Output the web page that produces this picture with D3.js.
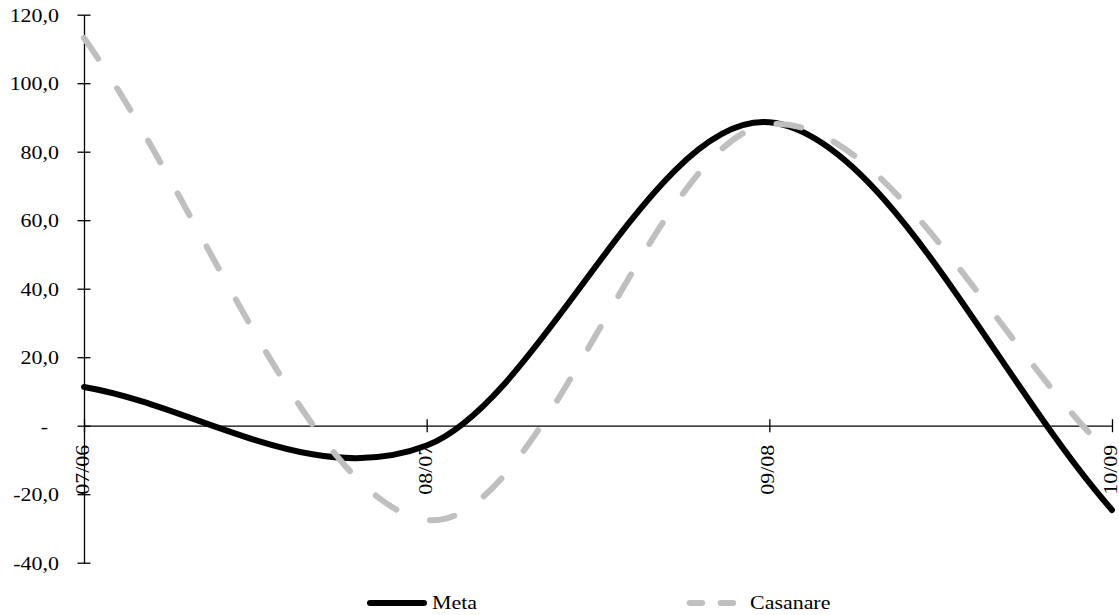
<!DOCTYPE html>
<html>
<head>
<meta charset="utf-8">
<script src="https://cdn.jsdelivr.net/npm/d3@7"></script>
<style>
  html, body { margin: 0; padding: 0; background: #fff; }
  svg { display: block; }
  text { font-family: "Liberation Serif", "Times New Roman", serif; font-size: 18px; fill: #000; white-space: pre; }
</style>
</head>
<body>
<svg id="chart" width="1119" height="615"></svg>
<script>
// ---- data ----
const categories = ["07/06", "08/07", "09/08", "10/09"];
const metaValues = [11.3, -5.8, 88.6, -24.6];
const casanareValues = [113.2, -27.5, 88.0, -9.0];
const seriesNames = ["Meta", "Casanare"];
const yTicks = [-40, -20, 0, 20, 40, 60, 80, 100, 120];

// ---- layout ----
const plot = { left: 84, right: 1112, top: 14.7, bottom: 562.7 };
const stretch = "scale(1.22,1)";
const fontFam = "'Liberation Serif', 'Times New Roman', serif";

const svg = d3.select("#chart");

const x = d3.scalePoint().domain(categories).range([plot.left, plot.right]);
const y = d3.scaleLinear().domain([-40, 120]).range([plot.bottom, plot.top]);

const locale = d3.formatLocale({ decimal: ",", thousands: ".", grouping: [3], currency: ["", ""], minus: "-" });
const f1 = locale.format(".1f");
const fmtY = d => d === 0 ? "-  " : f1(d);

// Excel-like smoothing curve (cardinal with reflected end points)
function curveExcel(context) {
  let pts = [];
  return {
    areaStart() {}, areaEnd() {},
    lineStart() { pts = []; },
    point(px, py) { pts.push([+px, +py]); },
    lineEnd() {
      const n = pts.length;
      if (!n) return;
      context.moveTo(pts[0][0], pts[0][1]);
      if (n === 1) return;
      const get = i => i < 0 ? [2 * pts[0][0] - pts[1][0], 2 * pts[0][1] - pts[1][1]]
        : i >= n ? [2 * pts[n - 1][0] - pts[n - 2][0], 2 * pts[n - 1][1] - pts[n - 2][1]]
        : pts[i];
      for (let i = 0; i < n - 1; i++) {
        const p0 = get(i - 1), p1 = pts[i], p2 = pts[i + 1], p3 = get(i + 2);
        context.bezierCurveTo(
          p1[0] + (p2[0] - p0[0]) / 6, p1[1] + (p2[1] - p0[1]) / 6,
          p2[0] - (p3[0] - p1[0]) / 6, p2[1] - (p3[1] - p1[1]) / 6,
          p2[0], p2[1]);
      }
    }
  };
}

// Y axis
const gy = svg.append("g")
  .attr("transform", `translate(${plot.left},0)`)
  .call(d3.axisLeft(y).tickValues(yTicks).tickFormat(fmtY).tickSizeInner(6.5).tickSizeOuter(0));
gy.select(".domain").attr("stroke", "#000").attr("stroke-width", 1.3);
gy.selectAll(".tick line").attr("x1", 6.5).attr("x2", -6.5).attr("stroke", "#000").attr("stroke-width", 1.3);
gy.selectAll(".tick text")
  .attr("x", 0).attr("dy", "0.35em")
  .attr("transform", `translate(-25,0) ${stretch}`)
  .attr("fill", "#000")
  .style("font-size", "18px")
  .style("font-family", fontFam);

// X axis at zero
const gx = svg.append("g")
  .attr("transform", `translate(0,${y(0)})`)
  .call(d3.axisBottom(x).tickSizeInner(6.5).tickSizeOuter(0));
gx.select(".domain").attr("stroke", "#000").attr("stroke-width", 1.3);
gx.selectAll(".tick line").attr("y1", -6.5).attr("y2", 6.5).attr("stroke", "#000").attr("stroke-width", 1.3);
gx.selectAll(".tick text")
  .attr("x", 0).attr("y", 0).attr("dy", "0.3em")
  .attr("transform", `translate(-1,19) rotate(-90) ${stretch}`)
  .attr("text-anchor", "end")
  .attr("fill", "#000")
  .style("font-size", "18px")
  .style("font-family", fontFam);

// lines
const line = d3.line()
  .x((d, i) => x(categories[i]))
  .y(d => y(d))
  .curve(curveExcel);

svg.append("path")
  .datum(metaValues)
  .attr("d", line)
  .attr("fill", "none")
  .attr("stroke", "#000")
  .attr("stroke-width", 6)
  .attr("stroke-linecap", "round")
  .attr("stroke-linejoin", "round");

svg.append("path")
  .datum(casanareValues)
  .attr("d", line)
  .attr("fill", "none")
  .attr("stroke", "#BFBFBF")
  .attr("stroke-width", 6)
  .attr("stroke-dasharray", "25,35.5")
  .attr("stroke-linecap", "round")
  .attr("stroke-linejoin", "round");

// legend
const legY = 603;
const lg = svg.append("g");
lg.append("line")
  .attr("x1", 370).attr("x2", 424).attr("y1", legY).attr("y2", legY)
  .attr("stroke", "#000").attr("stroke-width", 6).attr("stroke-linecap", "round");
lg.append("text")
  .attr("dy", "0.35em")
  .attr("transform", `translate(432,${legY}) ${stretch}`)
  .text(seriesNames[0]);
lg.append("line")
  .attr("x1", 689.7).attr("x2", 734).attr("y1", legY).attr("y2", legY)
  .attr("stroke", "#BFBFBF").attr("stroke-width", 6)
  .attr("stroke-dasharray", "12.5,18.5").attr("stroke-linecap", "round");
lg.append("text")
  .attr("dy", "0.35em")
  .attr("transform", `translate(750,${legY}) ${stretch}`)
  .text(seriesNames[1]);
</script>
</body>
</html>
